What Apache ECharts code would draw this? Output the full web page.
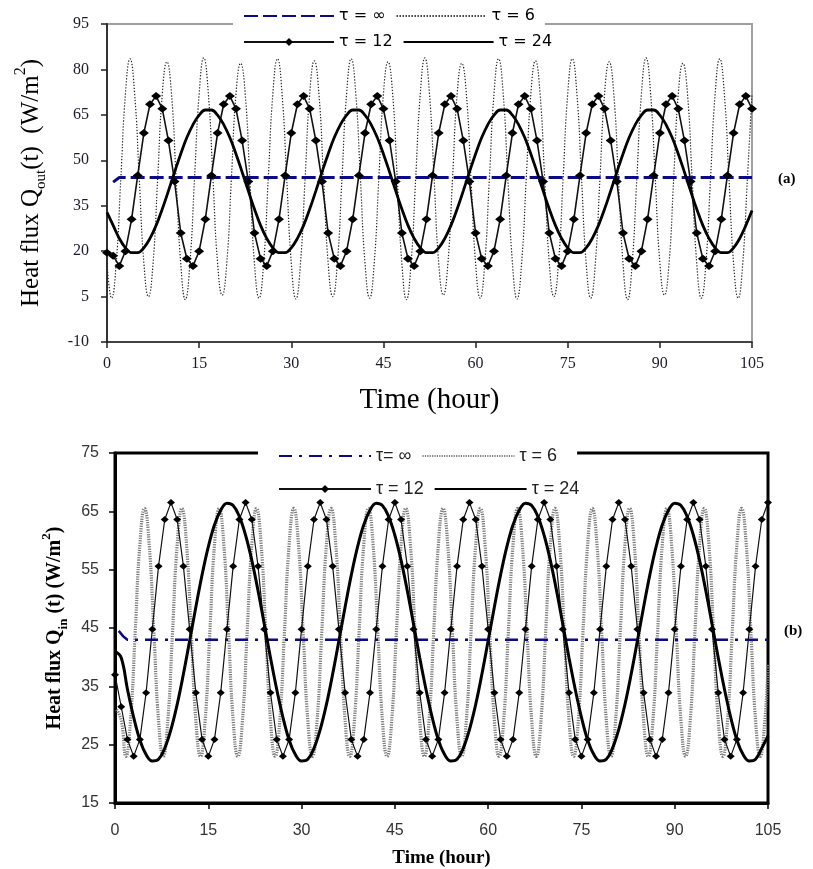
<!DOCTYPE html>
<html><head><meta charset="utf-8">
<script src="https://cdn.jsdelivr.net/npm/echarts@6/dist/echarts.min.js"></script>
<style>html,body{margin:0;padding:0;background:#fff}#c{width:813px;height:869px}</style>
</head><body><div id="c"></div>
<script>
// ---------- Chart (a): Q_out ----------
const xTicksA = [0, 15, 30, 45, 60, 75, 90, 105];
const yTicksA = [-10, 5, 20, 35, 50, 65, 80, 95];
const infTimesA = [1, 2, 105];
const infValuesA = [42.8, 44.3, 44.3];
// hourly values t = 0..105
const tau12A = [
19.5,18.5,15.1,20.0,30.5,45.0,59.0,68.5,71.2,67.0,56.5,43.0,
26.0,17.5,15.1,20.0,30.5,45.0,59.0,68.5,71.2,67.0,56.5,43.0,
26.0,17.5,15.1,20.0,30.5,45.0,59.0,68.5,71.2,67.0,56.5,43.0,
26.0,17.5,15.1,20.0,30.5,45.0,59.0,68.5,71.2,67.0,56.5,43.0,
26.0,17.5,15.1,20.0,30.5,45.0,59.0,68.5,71.2,67.0,56.5,43.0,
26.0,17.5,15.1,20.0,30.5,45.0,59.0,68.5,71.2,67.0,56.5,43.0,
26.0,17.5,15.1,20.0,30.5,45.0,59.0,68.5,71.2,67.0,56.5,43.0,
26.0,17.5,15.1,20.0,30.5,45.0,59.0,68.5,71.2,67.0,56.5,43.0,
26.0,17.5,15.1,20.0,30.5,45.0,59.0,68.5,71.2,67.0];
const tau24A = [
32.8,28.5,24.2,21.1,19.5,19.5,21.1,24.2,28.5,33.9,39.9,46.1,52.1,57.5,61.8,64.9,66.6,66.6,64.9,61.8,57.5,52.1,46.1,39.9,
33.9,28.5,24.2,21.1,19.5,19.5,21.1,24.2,28.5,33.9,39.9,46.1,52.1,57.5,61.8,64.9,66.6,66.6,64.9,61.8,57.5,52.1,46.1,39.9,
33.9,28.5,24.2,21.1,19.5,19.5,21.1,24.2,28.5,33.9,39.9,46.1,52.1,57.5,61.8,64.9,66.6,66.6,64.9,61.8,57.5,52.1,46.1,39.9,
33.9,28.5,24.2,21.1,19.5,19.5,21.1,24.2,28.5,33.9,39.9,46.1,52.1,57.5,61.8,64.9,66.6,66.6,64.9,61.8,57.5,52.1,46.1,39.9,
33.9,28.5,24.2,21.1,19.5,19.5,21.1,24.2,28.5,33.4];
// values every 0.75 h, t = 0 .. 105
const tau6A = [
16.1,4.5,16.1,44.0,71.9,83.5,71.9,44.0,
16.1,5.0,16.1,44.0,71.9,82.5,71.9,44.0,
16.1,4.0,16.1,44.0,71.9,83.8,71.9,44.0,
16.1,5.5,16.1,44.0,71.9,82.0,71.9,44.0,
16.1,4.5,16.1,44.0,71.9,83.5,71.9,44.0,
16.1,4.2,16.1,44.0,71.9,82.8,71.9,44.0,
16.1,5.0,16.1,44.0,71.9,83.5,71.9,44.0,
16.1,4.5,16.1,44.0,71.9,82.5,71.9,44.0,
16.1,4.0,16.1,44.0,71.9,83.8,71.9,44.0,
16.1,5.5,16.1,44.0,71.9,82.0,71.9,44.0,
16.1,4.5,16.1,44.0,71.9,83.5,71.9,44.0,
16.1,4.2,16.1,44.0,71.9,82.8,71.9,44.0,
16.1,5.0,16.1,44.0,71.9,83.5,71.9,44.0,
16.1,4.5,16.1,44.0,71.9,82.5,71.9,44.0,
16.1,4.0,16.1,44.0,71.9,83.8,71.9,44.0,
16.1,5.5,16.1,44.0,71.9,82.0,71.9,44.0,
16.1,4.5,16.1,44.0,71.9,83.5,71.9,44.0,
16.1,4.5,16.1,44.0,71.9];

// ---------- Chart (b): Q_in ----------
const xTicksB = [0, 15, 30, 45, 60, 75, 90, 105];
const yTicksB = [15, 25, 35, 45, 55, 65, 75];
const infTimesB = [0.6, 1.3, 2, 105];
const infValuesB = [44.5, 43.6, 43.0, 43.0];
const tau12B = [
37.0,31.5,25.9,23.0,25.9,33.9,44.8,55.6,63.6,66.5,63.6,55.6,
44.8,33.9,25.9,23.0,25.9,33.9,44.8,55.6,63.6,66.5,63.6,55.6,
44.8,33.9,25.9,23.0,25.9,33.9,44.8,55.6,63.6,66.5,63.6,55.6,
44.8,33.9,25.9,23.0,25.9,33.9,44.8,55.6,63.6,66.5,63.6,55.6,
44.8,33.9,25.9,23.0,25.9,33.9,44.8,55.6,63.6,66.5,63.6,55.6,
44.8,33.9,25.9,23.0,25.9,33.9,44.8,55.6,63.6,66.5,63.6,55.6,
44.8,33.9,25.9,23.0,25.9,33.9,44.8,55.6,63.6,66.5,63.6,55.6,
44.8,33.9,25.9,23.0,25.9,33.9,44.8,55.6,63.6,66.5,63.6,55.6,
44.8,33.9,25.9,23.0,25.9,33.9,44.8,55.6,63.6,66.5];
const tau24B = [
41.0,39.9,34.5,29.7,25.8,23.3,22.2,22.5,24.4,27.6,31.9,37.1,42.8,48.6,54.1,58.9,62.7,65.2,66.4,66.0,64.1,60.9,56.6,51.4,
45.7,39.9,34.5,29.7,25.8,23.3,22.2,22.5,24.4,27.6,31.9,37.1,42.8,48.6,54.1,58.9,62.7,65.2,66.4,66.0,64.1,60.9,56.6,51.4,
45.7,39.9,34.5,29.7,25.8,23.3,22.2,22.5,24.4,27.6,31.9,37.1,42.8,48.6,54.1,58.9,62.7,65.2,66.4,66.0,64.1,60.9,56.6,51.4,
45.7,39.9,34.5,29.7,25.8,23.3,22.2,22.5,24.4,27.6,31.9,37.1,42.8,48.6,54.1,58.9,62.7,65.2,66.4,66.0,64.1,60.9,56.6,51.4,
45.7,39.9,34.5,29.7,25.8,23.3,22.2,22.5,24.4,26.5];
// values every 0.75 h from t = 0.25, plus t = 105
const tau6B = [
31.0,29.2,23.0,29.2,44.3,59.3,65.5,59.3,
44.3,29.2,23.0,29.2,44.3,59.3,65.5,59.3,
44.3,29.2,23.0,29.2,44.3,59.3,65.5,59.3,
44.3,29.2,23.0,29.2,44.3,59.3,65.5,59.3,
44.3,29.2,23.0,29.2,44.3,59.3,65.5,59.3,
44.3,29.2,23.0,29.2,44.3,59.3,65.5,59.3,
44.3,29.2,23.0,29.2,44.3,59.3,65.5,59.3,
44.3,29.2,23.0,29.2,44.3,59.3,65.5,59.3,
44.3,29.2,23.0,29.2,44.3,59.3,65.5,59.3,
44.3,29.2,23.0,29.2,44.3,59.3,65.5,59.3,
44.3,29.2,23.0,29.2,44.3,59.3,65.5,59.3,
44.3,29.2,23.0,29.2,44.3,59.3,65.5,59.3,
44.3,29.2,23.0,29.2,44.3,59.3,65.5,59.3,
44.3,29.2,23.0,29.2,44.3,59.3,65.5,59.3,
44.3,29.2,23.0,29.2,44.3,59.3,65.5,59.3,
44.3,29.2,23.0,29.2,44.3,59.3,65.5,59.3,
44.3,29.2,23.0,29.2,44.3,59.3,65.5,59.3,
44.3,29.2,23.0,29.2,38.7];

const legendLabels = {
  aInf: 'τ = ∞', a6: 'τ = 6', a12: 'τ = 12', a24: 'τ = 24',
  bInf: 'τ= ∞', b6: 'τ = 6', b12: 'τ = 12', b24: 'τ = 24'
};

// time grids
const hours = tau12A.map((_, i) => i);
const times6A = tau6A.map((_, i) => i * 0.75);
const times6B = tau6B.map((_, i) => (i < tau6B.length - 1 ? 0.25 + i * 0.75 : 105));
const pairs = (ts, vs) => vs.map((v, i) => [ts[i], v]);

const serif = 'Liberation Serif';
const sans = 'Liberation Sans';
const noMarker = name => ({name: name, itemStyle: {opacity: 0}});
const withMarker = name => ({name: name, itemStyle: {color: '#000', opacity: 1}});

const chart = echarts.init(document.getElementById('c'));
const legendBase = {
  orient: 'horizontal', itemHeight: 10, selectedMode: false,
  formatter: n => legendLabels[n]
};
chart.setOption({
  animation: false,
  backgroundColor: '#fff',
  grid: [
    {left: 107, top: 24, width: 645, height: 318, show: true, borderColor: '#a0a0a0', borderWidth: 2, outerBoundsMode: 'none'},
    {left: 115, top: 453, width: 653, height: 350, show: true, borderColor: '#000', borderWidth: 3, outerBoundsMode: 'none'}
  ],
  legend: [
    Object.assign({}, legendBase, {left: 233, top: 3, itemWidth: 90, itemGap: 10, padding: [5, 10, 5, 10],
      backgroundColor: '#fff', data: [noMarker('aInf'), noMarker('a6')],
      textStyle: {fontFamily: 'DejaVu Sans', fontSize: 16, color: '#000', width: 64}}),
    Object.assign({}, legendBase, {left: 233, top: 29, itemWidth: 90, itemGap: 10, padding: [5, 10, 5, 10],
      data: [withMarker('a12'), noMarker('a24')],
      textStyle: {fontFamily: 'DejaVu Sans', fontSize: 16, color: '#000', width: 64}}),
    Object.assign({}, legendBase, {left: 258, top: 442, itemWidth: 92, itemGap: 10, padding: [5, 20, 5, 20],
      backgroundColor: '#fff', data: [noMarker('bInf'), noMarker('b6')],
      textStyle: {fontFamily: sans, fontSize: 18, color: '#222', width: 90}}),
    Object.assign({}, legendBase, {left: 258, top: 475, itemWidth: 92, itemGap: 10, padding: [5, 20, 5, 20],
      data: [withMarker('b12'), noMarker('b24')],
      textStyle: {fontFamily: sans, fontSize: 18, color: '#222', width: 90}})
  ],
  xAxis: [
    {gridIndex: 0, type: 'value', min: xTicksA[0], max: xTicksA[xTicksA.length - 1], interval: 15,
      axisLine: {show: true, onZero: false, lineStyle: {color: '#222', width: 1.5}},
      axisTick: {show: true, length: 6, lineStyle: {color: '#222', width: 1.5}},
      axisLabel: {fontFamily: serif, fontSize: 16, color: '#1b1b2f', margin: 14},
      splitLine: {show: false},
      name: 'Time (hour)', nameLocation: 'middle', nameGap: 44, nameMoveOverlap: false,
      nameTextStyle: {fontFamily: serif, fontSize: 29, color: '#000'}},
    {gridIndex: 1, type: 'value', min: xTicksB[0], max: xTicksB[xTicksB.length - 1], interval: 15,
      axisLine: {show: true, onZero: false, lineStyle: {color: '#000', width: 3}},
      axisTick: {show: true, length: 6, lineStyle: {color: '#000', width: 1.5}},
      axisLabel: {fontFamily: sans, fontSize: 16, color: '#333', margin: 20},
      splitLine: {show: false},
      name: 'Time (hour)', nameLocation: 'middle', nameGap: 46, nameMoveOverlap: false,
      nameTextStyle: {fontFamily: serif, fontSize: 19, fontWeight: 'bold', color: '#000'}}
  ],
  yAxis: [
    {gridIndex: 0, type: 'value', min: yTicksA[0], max: yTicksA[yTicksA.length - 1], interval: 15,
      axisLine: {show: true, onZero: false, lineStyle: {color: '#333', width: 2}},
      axisTick: {show: true, length: 6, lineStyle: {color: '#222', width: 1.5}},
      axisLabel: {fontFamily: serif, fontSize: 16, color: '#1b1b2f', margin: 18},
      splitLine: {show: false},
      name: '{a|Heat flux Q}{s|out}{a|(t)  (W/m}{p|2}{a|)}', nameLocation: 'middle', nameGap: 58, nameMoveOverlap: false,
      nameTextStyle: {rich: {
        a: {fontFamily: serif, fontSize: 25, color: '#000', lineHeight: 36, verticalAlign: 'middle'},
        s: {fontFamily: serif, fontSize: 15, color: '#000', lineHeight: 16, verticalAlign: 'bottom'},
        p: {fontFamily: serif, fontSize: 16, color: '#000', lineHeight: 14, verticalAlign: 'top'}
      }}},
    {gridIndex: 1, type: 'value', min: yTicksB[0], max: yTicksB[yTicksB.length - 1], interval: 10,
      axisLine: {show: true, onZero: false, lineStyle: {color: '#000', width: 3}},
      axisTick: {show: true, length: 6, lineStyle: {color: '#000', width: 1.5}},
      axisLabel: {fontFamily: sans, fontSize: 16, color: '#333', margin: 16},
      splitLine: {show: false},
      name: '{a|Heat flux Q}{s|in}{a| (t) (W/m}{p|2}{a|)}', nameLocation: 'middle', nameGap: 45, nameMoveOverlap: false,
      nameTextStyle: {rich: {
        a: {fontFamily: serif, fontSize: 20, fontWeight: 'bold', color: '#000', lineHeight: 30, verticalAlign: 'middle'},
        s: {fontFamily: serif, fontSize: 13, fontWeight: 'bold', color: '#000', lineHeight: 14, verticalAlign: 'bottom'},
        p: {fontFamily: serif, fontSize: 13, fontWeight: 'bold', color: '#000', lineHeight: 12, verticalAlign: 'top'}
      }}}
  ],
  graphic: [
    {type: 'text', left: 778, top: 172, style: {text: '(a)', fontFamily: serif, fontSize: 15, fontWeight: 'bold', fill: '#000'}},
    {type: 'text', left: 784, top: 624, style: {text: '(b)', fontFamily: serif, fontSize: 15, fontWeight: 'bold', fill: '#000'}}
  ],
  series: [
    {name: 'a6', type: 'line', xAxisIndex: 0, yAxisIndex: 0, data: pairs(times6A, tau6A), smooth: 0.5,
      showSymbol: false, symbol: 'none', itemStyle: {color: '#222'}, lineStyle: {color: '#222', width: 1.2, type: [1.3, 1.7]}, z: 2},
    {name: 'aInf', type: 'line', xAxisIndex: 0, yAxisIndex: 0, data: pairs(infTimesA, infValuesA),
      symbol: 'none', itemStyle: {color: '#0a0a8a'}, lineStyle: {color: '#0a0a8a', width: 3, type: [14, 5]}, z: 3},
    {name: 'a12', type: 'line', xAxisIndex: 0, yAxisIndex: 0, data: pairs(hours, tau12A),
      symbol: 'diamond', symbolSize: [10, 8], itemStyle: {color: '#000'}, lineStyle: {color: '#111', width: 1.6}, z: 4},
    {name: 'a24', type: 'line', xAxisIndex: 0, yAxisIndex: 0, data: pairs(hours, tau24A), smooth: 0.4,
      symbol: 'none', itemStyle: {color: '#000'}, lineStyle: {color: '#000', width: 2.8}, z: 5},

    {name: 'b6', type: 'line', xAxisIndex: 1, yAxisIndex: 1, data: pairs(times6B, tau6B), smooth: 0.5,
      symbol: 'none', itemStyle: {color: '#7a7a7a'}, lineStyle: {color: '#7a7a7a', width: 3.2, type: [1.2, 1.2]}, z: 2},
    {name: 'bInf', type: 'line', xAxisIndex: 1, yAxisIndex: 1, data: pairs(infTimesB, infValuesB),
      symbol: 'none', itemStyle: {color: '#0a0a8a'}, lineStyle: {color: '#0a0a8a', width: 2.5, type: [13, 7, 3, 7]}, z: 3},
    {name: 'b12', type: 'line', xAxisIndex: 1, yAxisIndex: 1, data: pairs(hours, tau12B),
      symbol: 'diamond', symbolSize: [8, 7], itemStyle: {color: '#000'}, lineStyle: {color: '#111', width: 1.2}, z: 4},
    {name: 'b24', type: 'line', xAxisIndex: 1, yAxisIndex: 1, data: pairs(hours, tau24B), smooth: 0.4,
      symbol: 'none', itemStyle: {color: '#000'}, lineStyle: {color: '#000', width: 3}, z: 5}
  ]
});
</script></body></html>
